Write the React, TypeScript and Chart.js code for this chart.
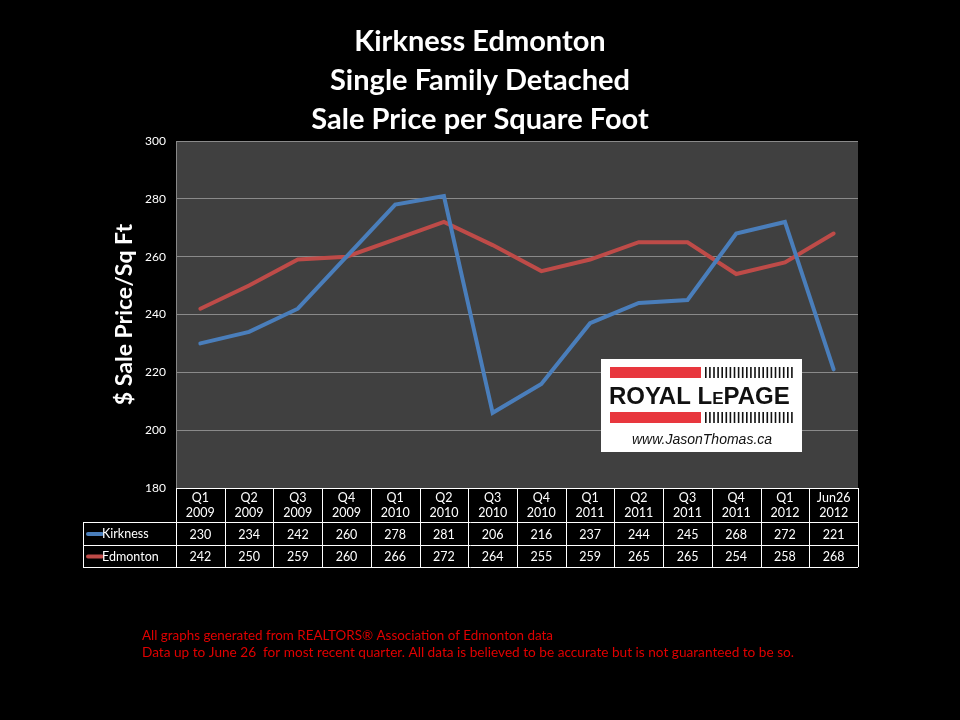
import { useEffect, useRef } from 'react';
import { Chart, registerables } from 'chart.js';

Chart.register(...registerables);

const titleLines = ['Kirkness Edmonton', 'Single Family Detached', 'Sale Price per Square Foot'];
const yAxisTitle = '$ Sale Price/Sq Ft';
const quarterLabels = ['Q1', 'Q2', 'Q3', 'Q4', 'Q1', 'Q2', 'Q3', 'Q4', 'Q1', 'Q2', 'Q3', 'Q4', 'Q1', 'Jun26'];
const yearLabels = ['2009', '2009', '2009', '2009', '2010', '2010', '2010', '2010', '2011', '2011', '2011', '2011', '2012', '2012'];
const kirkness = [230, 234, 242, 260, 278, 281, 206, 216, 237, 244, 245, 268, 272, 221];
const edmonton = [242, 250, 259, 260, 266, 272, 264, 255, 259, 265, 265, 254, 258, 268];
const seriesNames = ['Kirkness', 'Edmonton'];
const seriesColors = ['#4a7ebb', '#be4b48'];
const yMin = 180;
const yMax = 300;
const yStep = 20;
const footnotes = [
  'All graphs generated from REALTORS\u00AE Association of Edmonton data',
  'Data up to June 26  for most recent quarter. All data is believed to be accurate but is not guaranteed to be so.',
];

const FONT = 'Lato, "Open Sans", sans-serif';

const decorPlugin = {
  id: 'decor',
  beforeDraw(chart: any) {
    const { ctx, chartArea: a } = chart;
    ctx.save();
    ctx.fillStyle = '#000';
    ctx.fillRect(0, 0, chart.width, chart.height);
    ctx.fillStyle = '#404040';
    ctx.fillRect(a.left, a.top, a.right - a.left, a.bottom - a.top);
    ctx.restore();
  },
  afterDraw(chart: any) {
    const { ctx, chartArea: a } = chart;
    const xs = chart.scales.x;
    const n = quarterLabels.length;
    const w = (a.right - a.left) / n;
    ctx.save();

    // Title
    ctx.fillStyle = '#fff';
    ctx.textAlign = 'center';
    ctx.textBaseline = 'middle';
    ctx.font = `bold 29px ${FONT}`;
    titleLines.forEach((t, i) => ctx.fillText(t, 480, 42 + i * 39));

    // Y axis title
    ctx.save();
    ctx.translate(125, (a.top + a.bottom) / 2);
    ctx.rotate(-Math.PI / 2);
    ctx.font = `bold 23px ${FONT}`;
    ctx.fillText(yAxisTitle, 0, 0);
    ctx.restore();

    // Left border of plot
    ctx.strokeStyle = '#888';
    ctx.lineWidth = 1;
    ctx.beginPath();
    ctx.moveTo(a.left + 0.5, a.top);
    ctx.lineTo(a.left + 0.5, a.bottom);
    ctx.stroke();

    // Data table
    const tableLeft = 83;
    const r0 = a.bottom;
    const r1 = r0 + 34;
    const r2 = r1 + 23;
    const r3 = r2 + 22;
    ctx.strokeStyle = '#fff';
    ctx.lineWidth = 1;
    ctx.beginPath();
    ctx.moveTo(a.left, r0 + 0.5);
    ctx.lineTo(a.right, r0 + 0.5);
    [r1, r2, r3].forEach((y) => {
      ctx.moveTo(tableLeft, y + 0.5);
      ctx.lineTo(a.right, y + 0.5);
    });
    for (let i = 0; i <= n; i++) {
      const x = Math.round(a.left + i * w) + 0.5;
      ctx.moveTo(x, r0);
      ctx.lineTo(x, r3);
    }
    ctx.moveTo(tableLeft + 0.5, r1);
    ctx.lineTo(tableLeft + 0.5, r3);
    ctx.stroke();

    ctx.fillStyle = '#fff';
    ctx.font = `12.5px ${FONT}`;
    ctx.textAlign = 'center';
    for (let i = 0; i < n; i++) {
      const cx = xs.getPixelForValue(i);
      ctx.fillText(quarterLabels[i], cx, r0 + 10);
      ctx.fillText(yearLabels[i], cx, r0 + 25);
      ctx.fillText(String(kirkness[i]), cx, (r1 + r2) / 2 + 1);
      ctx.fillText(String(edmonton[i]), cx, (r2 + r3) / 2 + 1);
    }
    [r1, r2].forEach((top, k) => {
      const cy = top + (k === 0 ? 11.5 : 11) + 0.5;
      ctx.strokeStyle = seriesColors[k];
      ctx.lineWidth = 4;
      ctx.lineCap = 'round';
      ctx.beginPath();
      ctx.moveTo(88, cy);
      ctx.lineTo(102, cy);
      ctx.stroke();
      ctx.fillStyle = '#fff';
      ctx.textAlign = 'left';
      ctx.fillText(seriesNames[k], 102, cy);
    });

    // Logo
    const lx = 601, ly = 359;
    ctx.fillStyle = '#fff';
    ctx.fillRect(lx, ly, 201, 93);
    ctx.fillStyle = '#e8373e';
    ctx.fillRect(lx + 9, ly + 8, 91, 11);
    ctx.fillRect(lx + 9, ly + 53, 91, 11);
    ctx.fillStyle = '#111';
    for (let s = 0; s < 22; s++) {
      const sx = lx + 104 + s * 4.1;
      ctx.fillRect(sx, ly + 8, 1.6, 11);
      ctx.fillRect(sx, ly + 53, 1.6, 11);
    }
    ctx.textAlign = 'left';
    ctx.textBaseline = 'alphabetic';
    ctx.font = `bold 24px "Liberation Sans", Arial, sans-serif`;
    ctx.fillText('ROYAL L', lx + 8, ly + 45, 112);
    const w1 = Math.min(ctx.measureText('ROYAL L').width, 112);
    ctx.font = `bold 17px "Liberation Sans", Arial, sans-serif`;
    ctx.fillText('E', lx + 8 + w1, ly + 45);
    const w2 = ctx.measureText('E').width;
    ctx.font = `bold 24px "Liberation Sans", Arial, sans-serif`;
    ctx.fillText('PAGE', lx + 8 + w1 + w2, ly + 45, 195 - (8 + w1 + w2));
    ctx.font = `italic 14px "Liberation Sans", Arial, sans-serif`;
    ctx.fillText('www.JasonThomas.ca', lx + 31, ly + 85);

    // Footnotes
    ctx.fillStyle = '#e00000';
    ctx.font = `14px ${FONT}`;
    ctx.textBaseline = 'middle';
    ctx.fillText(footnotes[0], 142, 635, 411);
    ctx.fillText(footnotes[1], 142, 652, 652);

    ctx.restore();
  },
};

export default function App() {
  const ref = useRef<HTMLCanvasElement>(null);
  useEffect(() => {
    document.body.style.margin = '0';
    document.body.style.background = '#000';
    const chart = new Chart(ref.current!, {
      type: 'line',
      data: {
        labels: quarterLabels.map((q, i) => `${q} ${yearLabels[i]}`),
        datasets: [
          {
            label: seriesNames[0],
            data: kirkness,
            borderColor: seriesColors[0],
            borderWidth: 4,
            pointRadius: 0,
            tension: 0,
            borderCapStyle: 'round',
          },
          {
            label: seriesNames[1],
            data: edmonton,
            borderColor: seriesColors[1],
            borderWidth: 4,
            pointRadius: 0,
            tension: 0,
            borderCapStyle: 'round',
          },
        ],
      },
      options: {
        animation: false,
        responsive: false,
        devicePixelRatio: 1,
        layout: { padding: { left: 100, right: 102, top: 141, bottom: 232 } },
        plugins: { legend: { display: false }, title: { display: false }, tooltip: { enabled: false } },
        scales: {
          x: { type: 'category', offset: true, display: false },
          y: {
            min: yMin,
            max: yMax,
            ticks: { stepSize: yStep, color: '#fff', font: { family: FONT, size: 12 }, padding: 10 },
            grid: { color: '#8a8a8a', drawTicks: false },
            border: { display: false },
            afterFit: (s: any) => {
              s.width = 76;
            },
          },
        },
      },
      plugins: [decorPlugin],
    });
    return () => chart.destroy();
  }, []);
  return (
    <div style={{ width: 960, height: 720, background: '#000' }}>
      <canvas ref={ref} width={960} height={720} style={{ display: 'block', width: 960, height: 720 }} />
    </div>
  );
}
